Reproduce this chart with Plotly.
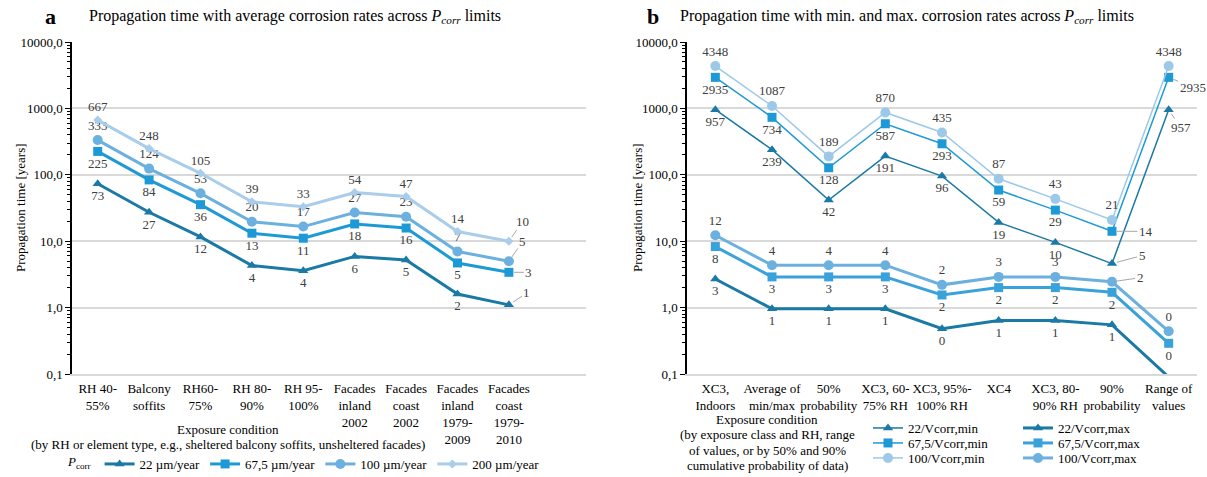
import math
import plotly.graph_objects as go

# ---------------- data: panel a (average corrosion rates) ----------------
cond_a = ["RH 40-<br>55%", "Balcony<br>soffits", "RH60-<br>75%", "RH 80-<br>90%",
          "RH 95-<br>100%", "Facades<br>inland<br>2002", "Facades<br>coast<br>2002",
          "Facades<br>inland<br>1979-<br>2009", "Facades<br>coast<br>1979-<br>2010"]
p22_avg = [73.3, 27.3, 11.6, 4.3, 3.6, 5.9, 5.2, 1.6, 1.1]
p675_avg = [225.0, 83.7, 35.5, 13.2, 11.1, 18.2, 15.8, 4.7, 3.4]
p100_avg = [333.3, 124.0, 52.6, 19.6, 16.6, 27.0, 23.4, 7.0, 5.0]
p200_avg = [666.7, 248.0, 105.3, 39.2, 33.0, 54.0, 47.0, 14.0, 10.0]

# ---------------- data: panel b (min. and max. corrosion rates) ----------------
cond_b = ["XC3,<br>Indoors", "Average of<br>min/max", "50%<br>probability",
          "XC3, 60-<br>75% RH", "XC3, 95%-<br>100% RH", "XC4",
          "XC3, 80-<br>90% RH", "90%<br>probability", "Range of<br>values"]
p22_min = [957.0, 239.1, 41.6, 191.3, 95.7, 19.2, 9.6, 4.6, 957.0]
p675_min = [2934.8, 733.7, 127.7, 587.0, 293.3, 58.9, 29.4, 14.1, 2934.8]
p100_min = [4347.8, 1087.0, 189.2, 869.6, 434.8, 87.3, 43.4, 20.9, 4347.8]
p22_max = [2.7, 0.96, 0.96, 0.96, 0.48, 0.64, 0.64, 0.55, 0.09]
p675_max = [8.3, 2.9, 2.9, 2.9, 1.55, 2.0, 2.0, 1.7, 0.29]
p100_max = [12.3, 4.35, 4.35, 4.35, 2.2, 2.9, 2.9, 2.45, 0.44]

y_ticks = [0.1, 1, 10, 100, 1000, 10000]
y_tick_text = ["0,1", "1,0", "10,0", "100,0", "1000,0", "10000,0"]

xtitle_a = ["Exposure condition",
            "(by RH or element type, e.g., sheltered balcony soffits, unsheltered facades)"]
xtitle_b = ["Exposure condition", "(by exposure class and RH, range",
            "of values, or by 50% and 90%", "cumulative probability of data)"]

# ---------------- styling ----------------
W, H = 1207, 477
SERIF = "Liberation Serif"
TXT = "#404040"
C22 = "#1a79a5"
C675 = "#1d9ad6"
C100 = "#6bb0df"
C200 = "#a9cdea"
C100_MIN = "#9dc9e9"
C675_MAX = "#3aa2da"


def px(x):
    return x / W


def py(y):
    return 1 - y / H


def labels(vals, skip=()):
    return ["" if i in skip else f"{v:.0f}" for i, v in enumerate(vals)]


fig = go.Figure()


def add_series(x, y, name, color, width, symbol, size, pos, xa, ya, legend,
               skip=(), showlegend=True):
    fig.add_trace(go.Scatter(
        x=x, y=y, name=name, mode="lines+markers+text",
        line=dict(color=color, width=width),
        marker=dict(symbol=symbol, size=size, color=color),
        text=labels(y, skip), textposition=pos,
        textfont=dict(family=SERIF, size=13, color=TXT),
        xaxis=xa, yaxis=ya, legend=legend, showlegend=showlegend,
        cliponaxis=False,
    ))


last_a = len(cond_a) - 1
add_series(cond_a, p22_avg, "22 µm/year", C22, 3, "triangle-up", 9, "bottom center", "x", "y", "legend", skip={last_a})
add_series(cond_a, p675_avg, "67,5 µm/year", C675, 3, "square", 9, "bottom center", "x", "y", "legend", skip={last_a})
add_series(cond_a, p100_avg, "100 µm/year", C100, 3, "circle", 10, "top center", "x", "y", "legend", skip={last_a})
add_series(cond_a, p200_avg, "200 µm/year", C200, 3, "diamond", 7, "top center", "x", "y", "legend", skip={last_a})

# panel b: thin lines for the minimum-rate series, thick for the maximum-rate series
add_series(cond_b, p22_min, "22/Vcorr,min", C22, 1.5, "triangle-up", 9, "bottom center", "x2", "y2", "legend2", skip={7, 8})
add_series(cond_b, p22_max, "22/Vcorr,max", C22, 3, "triangle-up", 9, "bottom center", "x2", "y2", "legend2", skip={8})
add_series(cond_b, p675_min, "67,5/Vcorr,min", C675, 1.5, "square", 9, "bottom center", "x2", "y2", "legend3", skip={7, 8})
add_series(cond_b, p675_max, "67,5/Vcorr,max", C675_MAX, 3, "square", 9, "bottom center", "x2", "y2", "legend3")
add_series(cond_b, p100_min, "100/Vcorr,min", C100_MIN, 1.5, "circle", 10, "top center", "x2", "y2", "legend4")
add_series(cond_b, p100_max, "100/Vcorr,max", C100, 3, "circle", 10, "top center", "x2", "y2", "legend4", skip={7})

# leader-line labels
leaders = [
    ("x", "y", cond_a[last_a], p200_avg[last_a], 14, -20),
    ("x", "y", cond_a[last_a], p100_avg[last_a], 14, -20),
    ("x", "y", cond_a[last_a], p675_avg[last_a], 20, 0),
    ("x", "y", cond_a[last_a], p22_avg[last_a], 18, -12),
    ("x2", "y2", cond_b[7], p675_min[7], 34, 0),
    ("x2", "y2", cond_b[7], p22_min[7], 30, -8),
    ("x2", "y2", cond_b[7], p100_max[7], 28, -4),
    ("x2", "y2", cond_b[8], p675_min[8], 24, 10),
    ("x2", "y2", cond_b[8], p22_min[8], 12, 18),
]
for xr, yr, xv, yv, ax, ay in leaders:
    fig.add_annotation(x=xv, y=math.log10(yv), xref=xr, yref=yr, text=f"{yv:.0f}",
                       showarrow=True, arrowhead=0, arrowwidth=1, arrowcolor="#a6a6a6",
                       ax=ax, ay=ay, standoff=5,
                       font=dict(family=SERIF, size=13, color=TXT))

ycommon = dict(
    type="log", range=[-1, 4], tickvals=y_ticks, ticktext=y_tick_text,
    showgrid=True, gridcolor="#d9d9d9", gridwidth=1.5,
    showline=True, linecolor="#000000", linewidth=1.5,
    ticks="outside", ticklen=5, tickcolor="#000000",
    minor=dict(ticks="outside", ticklen=3, tickcolor="#000000", dtick="D1"),
    tickfont=dict(family=SERIF, size=13, color="#000000"),
    zeroline=False, domain=[py(374), py(42)],
)
xcommon = dict(
    type="category", showgrid=False, showline=True, linecolor="#d9d9d9", linewidth=1.5,
    ticks="", tickangle=0, ticklabelstandoff=2,
    tickfont=dict(family=SERIF, size=13, color="#000000"),
    zeroline=False,
)

fig.update_layout(
    width=W, height=H, margin=dict(l=0, r=0, t=0, b=0, autoexpand=False),
    paper_bgcolor="white", plot_bgcolor="white",
    font=dict(family=SERIF, size=13, color="#000000"),
    xaxis=dict(xcommon, domain=[px(72), px(586)], range=[-0.5, 9.5], anchor="y"),
    yaxis=dict(ycommon, anchor="x"),
    xaxis2=dict(xcommon, domain=[px(687), px(1197)], range=[-0.5, 8.5], anchor="y2"),
    yaxis2=dict(ycommon, anchor="x2"),
    legend=dict(orientation="h", x=px(66), y=py(464), xanchor="left", yanchor="middle",
                title=dict(text="<i>P</i><sub>corr</sub>", side="left",
                           font=dict(family=SERIF, size=13)),
                font=dict(family=SERIF, size=13), bgcolor="rgba(0,0,0,0)",
                itemwidth=30),
)
for name, yy in (("legend2", 428), ("legend3", 443), ("legend4", 458)):
    fig.update_layout({name: dict(orientation="h", x=px(868), y=py(yy), xanchor="left",
                                  yanchor="middle", entrywidth=105,
                                  font=dict(family=SERIF, size=13),
                                  bgcolor="rgba(0,0,0,0)", itemwidth=30,
                                  tracegroupgap=0)})

# panel letters and titles
for letter, lx, title, tx in (("a", 50, "Propagation time with average corrosion rates across <i>P</i><sub><i>corr</i></sub> limits", 87),
                             ("b", 653, "Propagation time with min. and max. corrosion rates across <i>P</i><sub><i>corr</i></sub> limits", 678)):
    fig.add_annotation(x=px(lx), y=py(17), xref="paper", yref="paper", text=f"<b>{letter}</b>",
                       showarrow=False, font=dict(family=SERIF, size=22, color="#000000"),
                       xanchor="center", yanchor="middle")
    fig.add_annotation(x=px(tx), y=py(17), xref="paper", yref="paper", text=title,
                       showarrow=False, font=dict(family=SERIF, size=16, color="#000000"),
                       xanchor="left", yanchor="middle")

# axis titles
for x in (20, 637):
    fig.add_annotation(x=px(x), y=py(208), xref="paper", yref="paper",
                       text="Propagation time [years]", textangle=-90, showarrow=False,
                       font=dict(family=SERIF, size=13, color="#000000"),
                       xanchor="center", yanchor="middle")


def title_lines(lines, cx, y0, step):
    for i, line in enumerate(lines):
        fig.add_annotation(x=px(cx), y=py(y0 + i * step), xref="paper", yref="paper",
                           text=line, showarrow=False,
                           font=dict(family=SERIF, size=13, color="#000000"),
                           xanchor="center", yanchor="middle")


title_lines(xtitle_a, 228, 429, 15)
title_lines(xtitle_b, 767, 419, 15.5)

fig.write_html("out.html")
